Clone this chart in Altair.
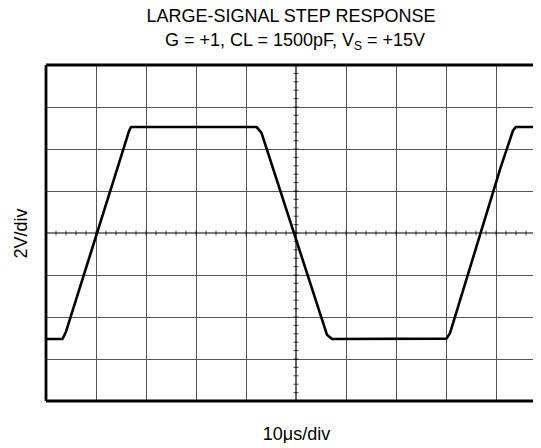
import altair as alt
import pandas as pd
import numpy as np

# Waveform: time in microseconds, output in volts
time_us = [0, 3.3, 4.0, 14.3, 16.6, 17.0, 42.1, 43.1, 56.2, 57.2, 80.1, 80.8, 90.9, 93.4, 94.0, 100]
volts = [-5.05, -5.05, -4.7, 3.1, 4.85, 5.05, 5.05, 4.77, -4.85, -5.05, -5.03, -4.77, 3.1, 4.88, 5.05, 5.05]

# Graticule: 10 us/div horizontally, 2 V/div vertically (right edge cut off by the page)
x_major = [10, 20, 30, 40, 60, 70, 80, 90]
y_major = [-6, -4, -2, 2, 4, 6]
x_minor = [round(v, 2) for v in np.arange(0, 97.4, 2)]
y_minor = [round(v, 2) for v in np.arange(-8, 8.01, 0.4)]
x_visible = [0, 97.4]
y_range = [-8, 8]

title_line1 = "LARGE-SIGNAL STEP RESPONSE"
title_line2a = "G = +1, CL = 1500pF, V"
title_line2b = "S"
title_line2c = "= +15V"
x_title = "10\u03bcs/div"
y_title = "2V/div"

FONT = "Liberation Sans"
W, H = 487, 336

xs = alt.Scale(domain=x_visible, nice=False, zero=False)
ys = alt.Scale(domain=y_range, nice=False, zero=False)

wave = pd.DataFrame({"t": time_us, "v": volts})

x_axis = alt.Axis(values=x_major, grid=True, gridColor="#555555", gridWidth=1,
                  labels=False, ticks=False, domain=False, title=x_title,
                  titleFont=FONT, titleFontSize=18, titleFontWeight="normal",
                  titleColor="black", titlePadding=24, titleX=250)
y_axis = alt.Axis(values=y_major, grid=True, gridColor="#555555", gridWidth=1,
                  labels=False, ticks=False, domain=False, title=y_title,
                  titleFont=FONT, titleFontSize=18, titleFontWeight="normal",
                  titleColor="black", titlePadding=16)

base = alt.Chart(wave).mark_line(color="black", strokeWidth=2.6, strokeJoin="round",
                                 clip=True).encode(
    x=alt.X("t:Q", scale=xs, axis=x_axis),
    y=alt.Y("v:Q", scale=ys, axis=y_axis),
)

vcenter = alt.Chart(pd.DataFrame({"t": [50]})).mark_rule(color="black", strokeWidth=1.2).encode(
    x=alt.X("t:Q", scale=xs))
hcenter = alt.Chart(pd.DataFrame({"v": [0]})).mark_rule(color="black", strokeWidth=1.2).encode(
    y=alt.Y("v:Q", scale=ys))

# frame: left, top and bottom (the right edge lies beyond the page)
frame_v = alt.Chart(pd.DataFrame({"t": [0]})).mark_rule(color="black", strokeWidth=2.8).encode(
    x=alt.X("t:Q", scale=xs))
frame_h = alt.Chart(pd.DataFrame({"v": y_range})).mark_rule(color="black", strokeWidth=2.8).encode(
    y=alt.Y("v:Q", scale=ys))

ticks_x = alt.Chart(pd.DataFrame({"t": x_minor, "v": [0] * len(x_minor)})).mark_tick(
    orient="vertical", size=5, thickness=1, color="black").encode(
    x=alt.X("t:Q", scale=xs), y=alt.Y("v:Q", scale=ys))
ticks_y = alt.Chart(pd.DataFrame({"t": [50] * len(y_minor), "v": y_minor})).mark_tick(
    orient="horizontal", size=5, thickness=1, color="black").encode(
    x=alt.X("t:Q", scale=xs), y=alt.Y("v:Q", scale=ys))

def txt(s, x, y, size=18, align="center"):
    return alt.Chart(pd.DataFrame({"s": [s]})).mark_text(
        font=FONT, fontSize=size, align=align, baseline="alphabetic", color="black"
    ).encode(text="s:N", x=alt.value(x), y=alt.value(y))

t1 = txt(title_line1, 245, -43)
t2a = txt(title_line2a, 308, -19.5, align="right")
t2b = txt(title_line2b, 308, -15.5, size=12, align="left")
t2c = txt(title_line2c, 321, -19.5, align="left")

chart = alt.layer(base, vcenter, hcenter, ticks_x, ticks_y, frame_v, frame_h,
                  t1, t2a, t2b, t2c).properties(
    width=W, height=H,
    autosize=alt.AutoSizeParams(type="none"),
    padding={"left": 38, "top": 57, "right": 0, "bottom": 42},
).configure_view(strokeWidth=0).configure(background="white")

chart.save("out.html", embed_options={"renderer": "svg", "actions": False})
